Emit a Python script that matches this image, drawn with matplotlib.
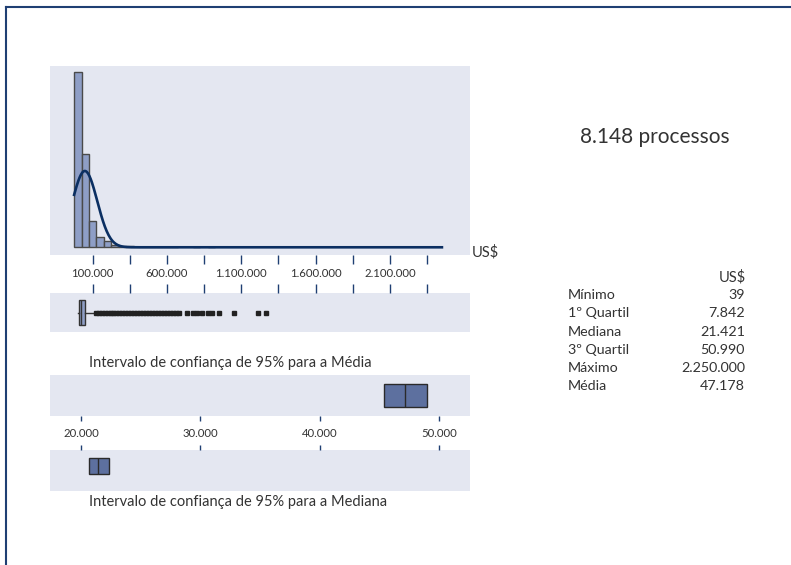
import numpy as np
import matplotlib
matplotlib.use('Agg')
import matplotlib.pyplot as plt
from matplotlib.lines import Line2D
from matplotlib.ticker import FuncFormatter

# Histogram: counts per US$ 50.000 bin (bin centres)
bin_centers = [0, 50000, 100000, 150000, 200000, 250000, 300000, 350000, 400000,
               450000, 500000, 550000, 600000, 650000, 800000, 900000]
bin_counts = [4469, 2380, 680, 275, 150, 60, 35, 25, 18, 14, 12, 10, 8, 6, 3, 3]
bin_width = 50000

n_proc = 8148
media = 47178
desvio = 83400

# boxplot summary
minimo = 39
q1 = 7842
mediana = 21421
q3 = 50990
maximo = 2250000
outliers = [120000, 140000, 160000, 180000, 200000, 220000, 240000, 260000, 280000,
            300000, 320000, 340000, 360000, 380000, 400000, 420000, 440000, 460000,
            480000, 500000, 520000, 540000, 560000, 580000, 600000, 620000, 640000,
            660000, 680000, 733000, 777000, 805000, 833000, 879000, 901000, 952000,
            1054000, 1214000, 1265000]

# confidence intervals (95%)
ic_media = [45370, 48990]
ic_mediana = [20700, 22350]

hist_ticks = [100000, 600000, 1100000, 1600000, 2100000]
hist_minor = [350000, 850000, 1350000, 1850000, 2350000]
ci_ticks = [20000, 30000, 40000, 50000]

stat_names = ['Mínimo', '1º Quartil', 'Mediana', '3º Quartil', 'Máximo', 'Média']
stat_values = [minimo, q1, mediana, q3, maximo, media]

W, H = 791, 565
bg = '#e4e7f1'
navy = '#1f3f73'
txt = '#333333'
bar_fill = '#8e9ec6'
bar_edge = '#4a4a4a'
ci_fill = '#5d709f'

plt.rcParams['font.family'] = ['Lato', 'DejaVu Sans']


def fmt(v, pos=None):
    return '{:,.0f}'.format(v).replace(',', '.')


def px_axes(x0, y0, x1, y1):
    return fig.add_axes([x0 / W, 1 - y1 / H, (x1 - x0) / W, (y1 - y0) / H])


def ftext(x, y, s, **kw):
    fig.text(x / W, 1 - y / H, s, color=txt, **kw)


fig = plt.figure(figsize=(W / 100, H / 100), dpi=100)

# histogram + normal curve
ax = px_axes(50, 66, 470, 255)
ax.set_facecolor(bg)
ax.bar(bin_centers, bin_counts, width=bin_width, color=bar_fill,
       edgecolor=bar_edge, linewidth=1.0)
xs = np.linspace(-25000, 2450000, 600)
ys = n_proc * bin_width / (desvio * np.sqrt(2 * np.pi)) * np.exp(-0.5 * ((xs - media) / desvio) ** 2)
ax.plot(xs, ys, color='#0b2f62', linewidth=1.9)
xlim_h = (-187300, 2639000)
ax.set_xlim(*xlim_h)
ax.set_ylim(-197, 4630)
ax.set_yticks([])
ax.set_xticks(hist_ticks)
ax.set_xticks(hist_minor, minor=True)
ax.xaxis.set_major_formatter(FuncFormatter(fmt))
ax.tick_params(axis='x', which='both', direction='out', length=6.5, width=1.0,
               color=navy, labelsize=8.2, labelcolor=txt, pad=3)
for s in ax.spines.values():
    s.set_visible(False)

# boxplot
axb = px_axes(50, 293.3, 470, 331.7)
axb.set_facecolor(bg)
stats = [dict(med=mediana, q1=q1, q3=q3, whislo=minimo,
              whishi=q3 + 1.5 * (q3 - q1), fliers=outliers)]
axb.bxp(stats, positions=[0.5], widths=0.65, vert=False, patch_artist=True,
        showcaps=False,
        boxprops=dict(facecolor=bar_fill, edgecolor='#333333', linewidth=1.0),
        medianprops=dict(color='#333333', linewidth=1.0),
        whiskerprops=dict(color='#333333', linewidth=1.0),
        flierprops=dict(marker='s', markersize=3.2, markerfacecolor='#222222',
                        markeredgecolor='#222222'))
axb.set_xlim(*xlim_h)
axb.set_ylim(0, 1)
axb.set_yticks([])
axb.xaxis.tick_top()
axb.set_xticks(hist_ticks)
axb.set_xticks(hist_minor, minor=True)
axb.tick_params(axis='x', which='both', direction='out', length=6.5, width=1.0,
                color=navy, labeltop=False, labelbottom=False)
for s in axb.spines.values():
    s.set_visible(False)

# CI for the mean
xlim_c = (17402, 52598)
axm = px_axes(50, 375, 470, 416)
axm.set_facecolor(bg)
axm.barh(0.5, ic_media[1] - ic_media[0], left=ic_media[0], height=0.57,
         color=ci_fill, edgecolor='#2a2a2a', linewidth=1.0)
axm.vlines(media, 0.5 - 0.285, 0.5 + 0.285, color='#2a2a2a', linewidth=1.0)
axm.set_xlim(*xlim_c)
axm.set_ylim(0, 1)
axm.set_yticks([])
axm.set_xticks(ci_ticks)
axm.xaxis.set_major_formatter(FuncFormatter(fmt))
axm.tick_params(axis='x', direction='out', length=3.6, width=1.0, color=navy,
                labelsize=8.2, labelcolor=txt, pad=5)
for s in axm.spines.values():
    s.set_visible(False)

# CI for the median
axd = px_axes(50, 450, 470, 490.7)
axd.set_facecolor(bg)
axd.barh(0.607, ic_mediana[1] - ic_mediana[0], left=ic_mediana[0], height=0.386,
         color=ci_fill, edgecolor='#2a2a2a', linewidth=1.0)
axd.vlines(mediana, 0.607 - 0.193, 0.607 + 0.193, color='#2a2a2a', linewidth=1.0)
axd.set_xlim(*xlim_c)
axd.set_ylim(0, 1)
axd.set_yticks([])
axd.xaxis.tick_top()
axd.set_xticks(ci_ticks)
axd.tick_params(axis='x', direction='out', length=3.6, width=1.0, color=navy,
                labeltop=False, labelbottom=False)
for s in axd.spines.values():
    s.set_visible(False)

# texts
ftext(472, 252, 'US$', fontsize=10.5, va='center', ha='left')
ftext(89, 363, 'Intervalo de confiança de 95% para a Média', fontsize=10.5, va='center')
ftext(89, 502, 'Intervalo de confiança de 95% para a Mediana', fontsize=10.5, va='center')
ftext(654.7, 136.7, fmt(n_proc) + ' processos', fontsize=15, va='center', ha='center')
ftext(746, 277, 'US$', fontsize=10.5, va='center', ha='right')
for i, (name, val) in enumerate(zip(stat_names, stat_values)):
    y = 295 + i * 18.3
    ftext(568, y, name, fontsize=10.3, va='center', ha='left')
    ftext(745, y, fmt(val), fontsize=10.3, va='center', ha='right')

# frame lines (top and left)
fig.add_artist(Line2D([5.5 / W, 1], [1 - 6.5 / H, 1 - 6.5 / H], color=navy, linewidth=1.5))
fig.add_artist(Line2D([5.5 / W, 5.5 / W], [0, 1 - 6.5 / H], color=navy, linewidth=1.5))

fig.savefig('out.png', dpi=100)
